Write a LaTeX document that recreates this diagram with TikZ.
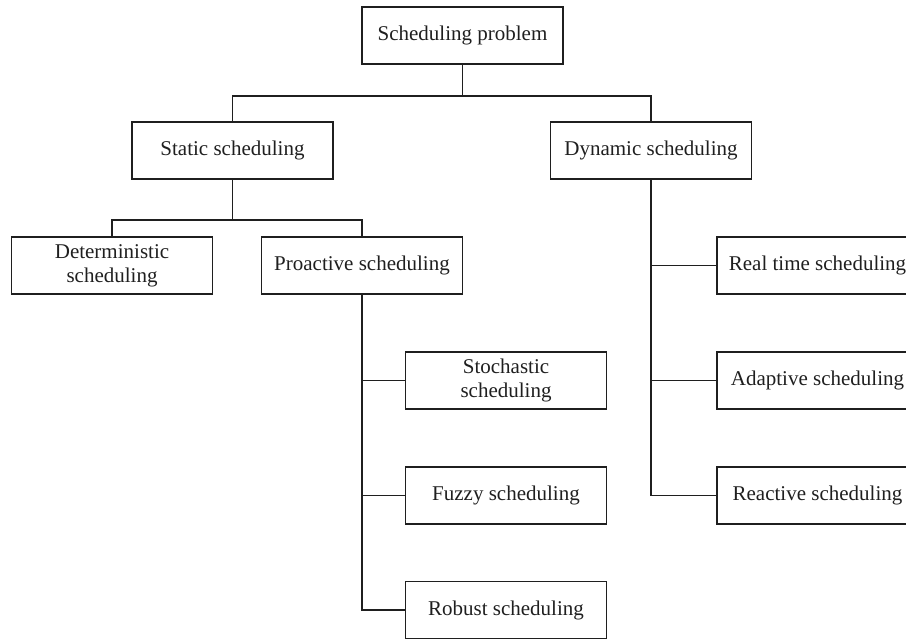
\documentclass[tikz,border=0pt]{standalone}
\usepackage{fontspec}
\setmainfont{Liberation Serif}
\usetikzlibrary{positioning}

\begin{document}
\begin{tikzpicture}[x=1pt,y=-1pt,line width=1.2pt,color=black!88,
  every node/.style={draw,minimum width=201pt,minimum height=57pt,inner sep=0pt,align=center,font=\fontsize{21}{24}\selectfont}]
  \useasboundingbox (0,0) rectangle (906,639);
  \clip (0,0) rectangle (906,639);

  \node (root) at (462.5,35.5) {Scheduling problem};
  \node (static) at (232.5,150.5) {Static scheduling};
  \node (dynamic) at (651,150.5) {Dynamic scheduling};

  \node (determ) at (112,265.5) {Deterministic\\scheduling};
  \node (proactive) at (362,265.5) {Proactive scheduling};

  \node (stoch) at (506,380.5) {Stochastic\\scheduling};
  \node (fuzzy) at (506,495.5) {Fuzzy scheduling};
  \node (robust) at (506,610) {Robust scheduling};

  \node (realtime) at (817.5,265.5) {Real time scheduling};
  \node (adaptive) at (817.5,380.5) {Adaptive scheduling};
  \node (reactive) at (817.5,495.5) {Reactive scheduling};

  \coordinate (j1) at (462.5,96);
  \coordinate (j2) at (232.5,220);

  \draw (root)--(j1);
  \draw (static.north)|-(j1)-|(dynamic.north);
  \draw (static)--(j2);
  \draw (determ.north)|-(j2)-|(proactive.north);

  \draw (proactive.south)|-(stoch.west);
  \draw (proactive.south)|-(fuzzy.west);
  \draw (proactive.south)|-(robust.west);

  \draw (dynamic.south)|-(realtime.west);
  \draw (dynamic.south)|-(adaptive.west);
  \draw (dynamic.south)|-(reactive.west);
\end{tikzpicture}
\end{document}
